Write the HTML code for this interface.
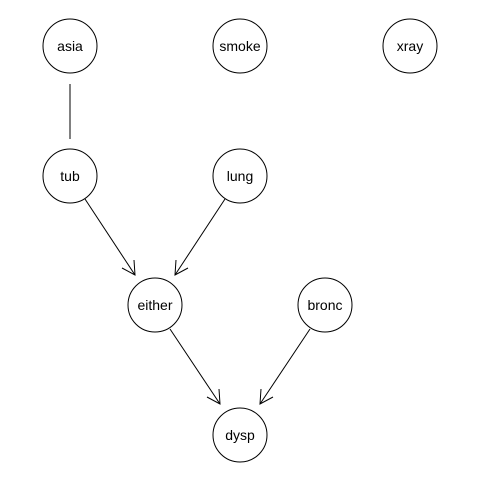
<!DOCTYPE html>
<html><head><style>body{margin:0;background:#fff}</style></head><body>
<svg width="480" height="480" viewBox="0 0 480 480" xmlns="http://www.w3.org/2000/svg" font-family="Liberation Sans, sans-serif" font-size="14">
<rect width="480" height="480" fill="#fff"/>
<g fill="none" stroke="#000" stroke-width="1">
<circle cx="70" cy="46" r="27"/>
<circle cx="240" cy="46" r="27"/>
<circle cx="410" cy="46" r="27"/>
<circle cx="70" cy="176" r="27"/>
<circle cx="240" cy="176" r="27"/>
<circle cx="155" cy="305" r="27"/>
<circle cx="325" cy="305" r="27"/>
<circle cx="240" cy="435" r="27"/>
<line x1="70" y1="84" x2="70" y2="139"/>
<line x1="85" y1="199" x2="135" y2="275"/>
<polyline points="122,268 135,275 134,260"/>
<line x1="225" y1="199" x2="175" y2="275"/>
<polyline points="176,260 175,275 188,268"/>
<line x1="170" y1="329" x2="220" y2="404"/>
<polyline points="207,397 220,404 219,389"/>
<line x1="310" y1="329" x2="260" y2="404"/>
<polyline points="261,389 260,404 273,397"/>
</g>
<g text-anchor="middle" fill="#000">
<text x="70" y="51">asia</text>
<text x="240" y="51">smoke</text>
<text x="410" y="51">xray</text>
<text x="70" y="181">tub</text>
<text x="240" y="181">lung</text>
<text x="155" y="310">either</text>
<text x="325" y="310">bronc</text>
<text x="240" y="440">dysp</text>
</g>
</svg>
</body></html>
